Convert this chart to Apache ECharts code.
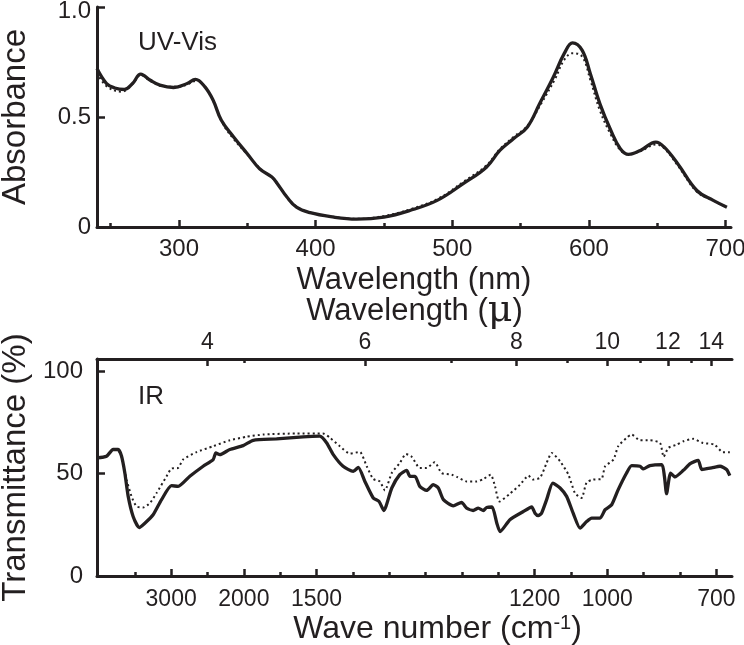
<!DOCTYPE html>
<html><head><meta charset="utf-8">
<script src="https://cdn.jsdelivr.net/npm/echarts@6/dist/echarts.min.js"></script>
<style>html,body{margin:0;padding:0;background:#fff}#c{width:744px;height:645px}</style>
</head><body><div id="c"></div>
<script>
// ---------- UV-Vis data (wavelength nm, absorbance) ----------
const uvWavelength = [240,247,253,260,266,272,279,286,296,306,312,319,325,331,340,350,359,368,372,379,386,396,411,430,450,469,489,508,525,535,545,555,564,574,582,588,595,601,608,616,623,629,638,649,655,665,679,691,701];
const uvAbsSolid   = [0.72,0.652,0.632,0.625,0.652,0.695,0.667,0.645,0.634,0.652,0.671,0.637,0.576,0.485,0.409,0.333,0.265,0.227,0.197,0.136,0.090,0.065,0.047,0.036,0.045,0.075,0.121,0.197,0.272,0.349,0.402,0.455,0.561,0.682,0.789,0.837,0.804,0.698,0.561,0.44,0.356,0.33,0.349,0.386,0.364,0.288,0.166,0.121,0.090];
const uvWavelengthDotted = [240,247,258,266,272,280,290,300,306,313,320,326,332,340,350,360,368,372,380,387,397,411,430,450,470,490,508,525,535,545,555,565,575,582,588,595,601,608,616,623,629,638,649,655,665,679,691,701];
const uvAbsDotted  = [0.70,0.64,0.615,0.65,0.69,0.66,0.638,0.638,0.648,0.665,0.63,0.56,0.47,0.40,0.33,0.262,0.225,0.195,0.13,0.088,0.064,0.048,0.037,0.05,0.082,0.13,0.205,0.28,0.355,0.41,0.46,0.56,0.67,0.76,0.79,0.775,0.67,0.53,0.42,0.35,0.33,0.345,0.375,0.358,0.28,0.16,0.12,0.09];
const uvMajorTicks = [300,400,500,600,700];
const uvMinorTicks = [250,350,450,550,650];
const uvYTicks = [0,0.5,1.0];

// ---------- IR data (wave number cm-1, transmittance %) ----------
const irWnSolid = [4020,3889,3798,3729,3682,3637,3591,3523,3440,3362,3248,3132,2995,2904,2743,2560,2422,2385,2330,2193,2010,1974,1910,1837,1791,1772,1754,1727,1699,1685,1667,1644,1628,1615,1593,1571,1552,1543,1529,1516,1497,1479,1465,1451,1424,1401,1387,1369,1355,1341,1332,1317,1304,1295,1268,1231,1208,1199,1190,1181,1167,1150,1130,1112,1094,1075,1057,1043,1020,1006,988,970,947,933,910,901,883,850,843,837,826,814,791,772,750,740,713,690,672,663];
const irTSolid  = [57.7,58.5,61.8,61.8,58.5,50.3,38.9,29.1,23.7,25.8,29.9,37.3,44.1,43.8,48.7,53.6,56.9,60.1,59.3,61.8,63.7,66.3,67.0,68.0,68.3,65.0,59.3,53.6,51.1,53.1,46.2,38.1,36.4,32.0,43.0,49.5,51.6,48.7,48.7,43.8,41.8,44.6,43.0,37.3,34.3,35.9,33.2,32.0,33.2,32.0,33.5,33.7,25.8,21.7,27.5,31.5,33.7,30.7,29.5,30.7,37.3,45.4,43.0,38.9,30.7,23.4,26.6,28.3,28.3,32.4,34.8,42.2,50.3,53.9,53.6,52.3,53.9,54.4,48.7,40.2,50.3,48.4,51.6,54.9,56.5,52.0,52.8,53.6,52.0,49.0];
const irWnDotted = [4020,3889,3798,3729,3682,3637,3614,3545,3476,3385,3293,3201,3063,2995,2904,2835,2651,2422,2193,1993,1947,1855,1782,1763,1736,1708,1681,1662,1644,1626,1612,1593,1571,1554,1538,1516,1497,1475,1456,1428,1414,1387,1359,1341,1321,1309,1297,1268,1240,1217,1204,1185,1167,1153,1130,1107,1089,1071,1057,1039,1016,1006,983,970,947,933,910,883,855,845,832,809,791,764,737,705,682,663];
const irTDotted  = [57.7,58.5,61.8,61.5,58.0,51.0,47.1,38.9,34.0,33.5,35.6,40.5,48.7,52.5,52.8,56.9,60.5,63.4,66.3,68.0,69.1,69.6,69.6,67.5,63.4,59.8,60.6,53.6,47.4,46.2,41.8,50.3,55.2,59.6,58.2,52.8,52.8,55.6,50.3,49.5,48.4,46.2,46.2,47.4,49.5,43.8,36.4,40.2,44.6,49.0,47.1,48.0,55.2,60.1,56.0,49.5,40.5,38.1,45.7,47.1,47.4,53.6,56.9,63.4,67.5,69.1,66.3,66.3,65.0,58.2,62.6,64.2,65.8,67.0,65.0,64.2,60.4,60.4];
const irMajorTickWn   = [3000,2000,1800,1200,1000,700];
const irMajorTickText = ['3000','2000','1500','1200','1000','700'];
const irMinorTickWn   = [3500,2500,1900,1700,1600,1500,1400,1300,1100,900,800];
const muMajorTicks = [4,6,8,10,12,14];
const muMinorTicks = [5,7,9,11,13];
const irYTicks = [0,50,100];

// Spectrometer abscissa: scale change at 2000 cm-1 (5x expanded below 2000)
function irPos(wn){ return wn <= 2000 ? 2000 - wn : -(wn - 2000) / 5; }
function irWn(p){ return p >= 0 ? 2000 - p : 2000 - p * 5; }
const irMin = irPos(4020), irMax = irPos(657);

const FONT = 'Liberation Sans';
const INK = '#231f20';
const zip = (xs, ys, f) => xs.map((x, i) => [f ? f(x) : x, ys[i]]);

function tickAxis(base){
  return Object.assign({
    type: 'value', splitLine: {show: false},
    axisLine: {show: true, onZero: false, lineStyle: {color: INK, width: 3}},
    axisTick: {show: true, inside: true, length: 7, lineStyle: {color: INK, width: 2.5}},
    axisLabel: {show: true, color: INK, fontFamily: FONT, fontSize: 24},
    nameTextStyle: {color: INK, fontFamily: FONT, fontSize: 31}
  }, base);
}
function minorAxis(base, ticks){
  return Object.assign({
    type: 'value', splitLine: {show: false},
    axisLine: {show: false, onZero: false},
    axisTick: {show: true, inside: true, length: 4, customValues: ticks, lineStyle: {color: INK, width: 2.5}},
    axisLabel: {show: false}
  }, base);
}

const chart = echarts.init(document.getElementById('c'), null, {renderer: 'canvas'});
chart.setOption({
  animation: false,
  backgroundColor: '#fff',
  title: [
    {text: 'UV-Vis', left: 138, top: 30, padding: 0, textStyle: {fontFamily: FONT, fontSize: 26, fontWeight: 'normal', color: INK}},
    {text: 'IR', left: 138, top: 384, padding: 0, textStyle: {fontFamily: FONT, fontSize: 26, fontWeight: 'normal', color: INK}}
  ],
  grid: [
    {left: 97, right: 13, top: 7, bottom: 418, outerBoundsMode: 'none', containLabel: false},
    {left: 97, right: 12, top: 359, bottom: 69, outerBoundsMode: 'none', containLabel: false}
  ],
  xAxis: [
    tickAxis({gridIndex: 0, position: 'bottom', min: 240, max: 704,
      axisTick: {show: true, inside: true, length: 7, customValues: uvMajorTicks, lineStyle: {color: INK, width: 2.5}},
      axisLabel: {show: true, customValues: uvMajorTicks, margin: 10, color: INK, fontFamily: FONT, fontSize: 24},
      name: 'Wavelength (nm)', nameLocation: 'middle', nameGap: 38}),
    minorAxis({gridIndex: 0, position: 'bottom', min: 240, max: 704}, uvMinorTicks),
    tickAxis({gridIndex: 1, position: 'bottom', min: irMin, max: irMax,
      axisTick: {show: true, inside: true, length: 7, customValues: irMajorTickWn.map(irPos), lineStyle: {color: INK, width: 2.5}},
      axisLabel: {show: true, customValues: irMajorTickWn.map(irPos), margin: 12, color: INK, fontFamily: FONT, fontSize: 23,
        formatter: v => { const w = irWn(v); let k = 0; irMajorTickWn.forEach((t, i) => { if (Math.abs(t - w) < Math.abs(irMajorTickWn[k] - w)) k = i; }); return irMajorTickText[k]; }},
      name: 'Wave number (cm{sup|-1})', nameLocation: 'middle', nameGap: 37,
      nameTextStyle: {color: INK, fontFamily: FONT, fontSize: 32, padding: [0, 0, 0, 46],
        rich: {sup: {fontFamily: FONT, fontSize: 20, color: INK, verticalAlign: 'top', padding: [0, 0, 12, 0]}}}}),
    minorAxis({gridIndex: 1, position: 'bottom', min: irMin, max: irMax}, irMinorTickWn.map(irPos)),
    tickAxis({gridIndex: 1, position: 'top', min: irMin, max: irMax,
      axisTick: {show: true, inside: true, length: 7, customValues: muMajorTicks.map(m => irPos(10000 / m)), lineStyle: {color: INK, width: 2.5}},
      axisLabel: {show: true, customValues: muMajorTicks.map(m => irPos(10000 / m)), margin: 5, color: INK, fontFamily: FONT, fontSize: 23,
        formatter: v => String(Math.round(10000 / irWn(v)))},
      name: 'Wavelength ({mu|μ})', nameLocation: 'middle', nameGap: 29,
      nameTextStyle: {color: INK, fontFamily: FONT, fontSize: 31,
        rich: {mu: {fontFamily: 'DejaVu Serif', fontSize: 38, color: INK}}}}),
    minorAxis({gridIndex: 1, position: 'top', min: irMin, max: irMax}, muMinorTicks.map(m => irPos(10000 / m)))
  ],
  yAxis: [
    tickAxis({gridIndex: 0, min: 0, max: 1.0,
      axisTick: {show: true, inside: true, length: 8, customValues: uvYTicks, lineStyle: {color: INK, width: 2.5}},
      axisLabel: {show: true, customValues: uvYTicks, margin: 6, color: INK, fontFamily: FONT, fontSize: 24,
        formatter: v => v === 0 ? '0' : (v === 1 ? '{t|1.0}' : v.toFixed(1)),
        rich: {t: {fontFamily: FONT, fontSize: 24, color: INK, padding: [9, 0, 0, 0]}}},
      name: 'Absorbance', nameLocation: 'middle', nameGap: 65,
      nameTextStyle: {color: INK, fontFamily: FONT, fontSize: 33}}),
    tickAxis({gridIndex: 1, min: 0, max: 106,
      axisTick: {show: true, inside: true, length: 8, customValues: irYTicks, lineStyle: {color: INK, width: 2.5}},
      axisLabel: {show: true, customValues: irYTicks, margin: 14, color: INK, fontFamily: FONT, fontSize: 24},
      name: 'Transmittance (%)', nameLocation: 'middle', nameGap: 61,
      nameTextStyle: {color: INK, fontFamily: FONT, fontSize: 33}})
  ],
  series: [
    {type: 'line', xAxisIndex: 0, yAxisIndex: 0, showSymbol: false, smooth: 0.4, data: zip(uvWavelengthDotted, uvAbsDotted),
      lineStyle: {color: INK, width: 2, type: [2, 3]}},
    {type: 'line', xAxisIndex: 0, yAxisIndex: 0, showSymbol: false, smooth: 0.4, data: zip(uvWavelength, uvAbsSolid),
      lineStyle: {color: INK, width: 3.3}},
    {type: 'line', xAxisIndex: 2, yAxisIndex: 1, showSymbol: false, smooth: 0.2, data: zip(irWnDotted, irTDotted, irPos),
      lineStyle: {color: INK, width: 2, type: [2, 3]}},
    {type: 'line', xAxisIndex: 2, yAxisIndex: 1, showSymbol: false, smooth: 0.2, data: zip(irWnSolid, irTSolid, irPos),
      lineStyle: {color: INK, width: 3.3}}
  ]
});
</script></body></html>
